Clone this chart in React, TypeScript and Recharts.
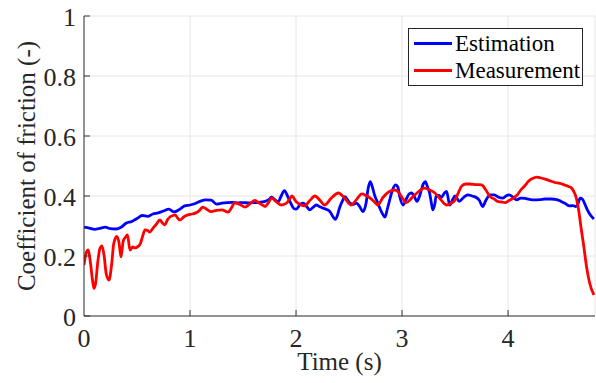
import { LineChart, Line, XAxis, YAxis, CartesianGrid, Label } from 'recharts';

const FONT = '"Liberation Serif", "Times New Roman", serif';
const AXIS = '#333333';

// friction estimate from the observer
const estTime = [
  0, 0.05, 0.1, 0.15, 0.2, 0.25, 0.3, 0.35, 0.4, 0.45, 0.5, 0.55, 0.6, 0.65, 0.7, 0.75, 0.8, 0.85, 0.9, 0.95,
  1.0, 1.05, 1.1, 1.15, 1.2, 1.25, 1.3, 1.35, 1.4, 1.45, 1.5, 1.55, 1.6, 1.65, 1.7, 1.75, 1.77, 1.8, 1.83, 1.86,
  1.89, 1.92, 1.95, 1.98, 2.0, 2.04, 2.07, 2.1, 2.13, 2.16, 2.19, 2.22, 2.25, 2.29, 2.32, 2.35, 2.37, 2.39, 2.41, 2.44,
  2.46, 2.48, 2.51, 2.54, 2.57, 2.6, 2.63, 2.66, 2.68, 2.7, 2.72, 2.74, 2.77, 2.79, 2.82, 2.84, 2.86, 2.88, 2.91, 2.94,
  2.96, 2.98, 3.01, 3.04, 3.07, 3.09, 3.12, 3.14, 3.17, 3.2, 3.22, 3.24, 3.26, 3.28, 3.29, 3.31, 3.32, 3.35, 3.37, 3.4,
  3.42, 3.45, 3.48, 3.5, 3.54, 3.58, 3.62, 3.66, 3.7, 3.73, 3.76, 3.79, 3.83, 3.87, 3.91, 3.95, 3.98, 4.01, 4.05, 4.08,
  4.12, 4.16, 4.2, 4.25, 4.3, 4.35, 4.41, 4.46, 4.5, 4.54, 4.58, 4.61, 4.64, 4.66, 4.68, 4.7, 4.74, 4.77, 4.81,
];
const estValue = [
  0.296, 0.293, 0.289, 0.292, 0.296, 0.291, 0.29, 0.296, 0.31, 0.315, 0.325, 0.335, 0.332, 0.34, 0.344, 0.35, 0.356, 0.347, 0.355, 0.367,
  0.37, 0.375, 0.383, 0.387, 0.386, 0.373, 0.376, 0.378, 0.379, 0.377, 0.378, 0.377, 0.378, 0.379, 0.381, 0.39, 0.396, 0.388, 0.38, 0.4,
  0.418, 0.4, 0.376, 0.358, 0.356, 0.372, 0.376, 0.365, 0.354, 0.362, 0.37, 0.365, 0.36, 0.355, 0.348, 0.33, 0.322, 0.335, 0.36, 0.385,
  0.398, 0.39, 0.376, 0.372, 0.376, 0.365, 0.348, 0.375, 0.425, 0.448, 0.43, 0.404, 0.378, 0.36, 0.338, 0.33, 0.355, 0.382, 0.42, 0.437,
  0.43, 0.395, 0.37, 0.39, 0.408, 0.41, 0.395, 0.382, 0.405, 0.44, 0.448, 0.43, 0.41, 0.37, 0.354, 0.375, 0.398, 0.402, 0.395, 0.41,
  0.415, 0.37, 0.39, 0.4, 0.382, 0.395, 0.404, 0.4, 0.395, 0.385, 0.365, 0.385, 0.404, 0.404, 0.396, 0.393, 0.4, 0.404, 0.395, 0.387,
  0.393, 0.392, 0.389, 0.387, 0.388, 0.39, 0.39, 0.388, 0.382, 0.375, 0.367, 0.368, 0.365, 0.375, 0.393, 0.39, 0.36, 0.34, 0.323,
];

// measured friction coefficient
const measTime = [
  0, 0.02, 0.04, 0.06, 0.08, 0.094, 0.11, 0.13, 0.15, 0.17, 0.19, 0.21, 0.236, 0.26, 0.28, 0.308, 0.33, 0.349, 0.37, 0.39,
  0.41, 0.434, 0.46, 0.48, 0.51, 0.53, 0.55, 0.575, 0.6, 0.62, 0.65, 0.68, 0.716, 0.74, 0.76, 0.79, 0.81, 0.84, 0.86, 0.88,
  0.905, 0.94, 0.98, 1.02, 1.05, 1.09, 1.12, 1.16, 1.2, 1.25, 1.3, 1.36, 1.39, 1.42, 1.47, 1.52, 1.56, 1.61, 1.66, 1.71,
  1.74, 1.77, 1.81, 1.86, 1.91, 1.94, 1.96, 2.0, 2.04, 2.08, 2.13, 2.18, 2.22, 2.27, 2.33, 2.4, 2.46, 2.52, 2.57, 2.62,
  2.66, 2.7, 2.74, 2.77, 2.82, 2.88, 2.93, 2.96, 3.0, 3.04, 3.09, 3.14, 3.21, 3.26, 3.31, 3.36, 3.42, 3.46, 3.5, 3.53,
  3.56, 3.6, 3.64, 3.7, 3.75, 3.79, 3.83, 3.87, 3.9, 3.94, 3.97, 4.01, 4.05, 4.09, 4.12, 4.16, 4.19, 4.23, 4.27, 4.31,
  4.35, 4.4, 4.44, 4.49, 4.53, 4.57, 4.6, 4.62, 4.64, 4.66, 4.67, 4.69, 4.71, 4.74, 4.77, 4.81,
];
const measValue = [
  0.17, 0.21, 0.22, 0.18, 0.12, 0.092, 0.11, 0.18, 0.225, 0.234, 0.2, 0.14, 0.12, 0.17, 0.24, 0.265, 0.245, 0.197, 0.25, 0.262,
  0.27, 0.22, 0.23, 0.227, 0.232, 0.24, 0.262, 0.287, 0.285, 0.28, 0.292, 0.305, 0.32, 0.31, 0.304, 0.322, 0.33, 0.335, 0.337, 0.328,
  0.32, 0.33, 0.337, 0.34, 0.343, 0.352, 0.363, 0.355, 0.348, 0.352, 0.354, 0.346, 0.36, 0.377, 0.372, 0.363, 0.372, 0.385, 0.375, 0.365,
  0.378, 0.393, 0.382, 0.37, 0.376, 0.39, 0.4, 0.382, 0.372, 0.367, 0.385, 0.4, 0.388, 0.37, 0.392, 0.41, 0.392, 0.37, 0.388, 0.407,
  0.402, 0.393, 0.38, 0.37, 0.395, 0.415, 0.42, 0.415, 0.395, 0.378, 0.393, 0.41, 0.426, 0.42, 0.41, 0.39, 0.37, 0.375, 0.387, 0.41,
  0.432, 0.44, 0.44, 0.438, 0.437, 0.42, 0.398, 0.39, 0.382, 0.38, 0.378, 0.385, 0.393, 0.405, 0.42, 0.435, 0.448, 0.458, 0.463, 0.46,
  0.456, 0.45, 0.445, 0.442, 0.437, 0.432, 0.426, 0.415, 0.398, 0.365, 0.343, 0.29, 0.243, 0.165, 0.109, 0.07,
];

const xTicks = [0, 1, 2, 3, 4];
const yTicks = [0, 0.2, 0.4, 0.6, 0.8, 1];

const series = [
  { name: 'Estimation', color: '#0000ff', data: estTime.map((t, i) => ({ t, v: estValue[i] })) },
  { name: 'Measurement', color: '#ff0000', data: measTime.map((t, i) => ({ t, v: measValue[i] })) },
];

const TICK_FONT = 26;

// ticks point inward, like the MATLAB default
const YTick = ({ x, y, payload }: any) => (
  <g>
    <line x1={x} x2={x + 6} y1={y} y2={y} stroke={AXIS} />
    <text x={x - 8} y={y + 1} textAnchor="end" dominantBaseline="central" fontFamily={FONT} fontSize={TICK_FONT} fill="#262626">
      {payload.value}
    </text>
  </g>
);

const XTick = ({ x, y, payload }: any) => (
  <g>
    {payload.value !== 0 && <line x1={x} x2={x} y1={y} y2={y - 6} stroke={AXIS} />}
    <text x={x} y={y + 31} textAnchor="middle" fontFamily={FONT} fontSize={TICK_FONT} fill="#262626">
      {payload.value}
    </text>
  </g>
);

// boxed legend in the upper right corner of the axes
const LegendBox = () => (
  <div
    style={{
      position: 'absolute',
      left: 408,
      top: 28,
      width: 173,
      height: 56,
      border: '1px solid #262626',
      background: '#fff',
      fontFamily: FONT,
      fontSize: 23,
      color: '#000',
    }}
  >
    {series.map((s, i) => (
      <div key={s.name} style={{ display: 'flex', alignItems: 'center', height: 27, marginTop: i === 0 ? 1 : 0 }}>
        <svg width={46} height={27} style={{ display: 'block' }}>
          <line x1={5} x2={43} y1={13.5} y2={13.5} stroke={s.color} strokeWidth={3} />
        </svg>
        <span style={{ lineHeight: '27px', whiteSpace: 'nowrap' }}>{s.name}</span>
      </div>
    ))}
  </div>
);

export default function App() {
  return (
    <div style={{ position: 'absolute', left: 0, top: 0, width: 596, height: 383 }}>
      <LineChart width={596} height={383} margin={{ top: 16, right: 1, bottom: 0, left: 0 }}>
        <CartesianGrid stroke="#e6e6e6" />
        <XAxis
          type="number"
          dataKey="t"
          domain={[0, 4.82]}
          ticks={xTicks}
          allowDataOverflow
          height={67}
          stroke={AXIS}
          tickLine={false}
          tickSize={0}
          tickMargin={0}
          tick={<XTick />}
        >
          <Label
            content={({ viewBox }: any) => (
              <text
                x={viewBox.x + viewBox.width / 2}
                y={viewBox.y + 54}
                textAnchor="middle"
                fontFamily={FONT}
                fontSize={25}
                fill="#262626"
              >
                Time (s)
              </text>
            )}
          />
        </XAxis>
        <YAxis
          type="number"
          domain={[0, 1]}
          ticks={yTicks}
          width={84}
          stroke={AXIS}
          tickLine={false}
          tickSize={0}
          tickMargin={0}
          tick={<YTick />}
        >
          <Label
            content={({ viewBox }: any) => {
              const cy = viewBox.y + viewBox.height / 2;
              return (
                <text
                  x={35}
                  y={cy}
                  transform={`rotate(-90, 35, ${cy})`}
                  textAnchor="middle"
                  fontFamily={FONT}
                  fontSize={25}
                  fill="#262626"
                >
                  Coefficient of friction (-)
                </text>
              );
            }}
          />
        </YAxis>
        {series.map((s) => (
          <Line
            key={s.name}
            data={s.data}
            dataKey="v"
            name={s.name}
            type="monotone"
            stroke={s.color}
            strokeWidth={2.8}
            dot={false}
            isAnimationActive={false}
          />
        ))}
      </LineChart>
      <LegendBox />
    </div>
  );
}
